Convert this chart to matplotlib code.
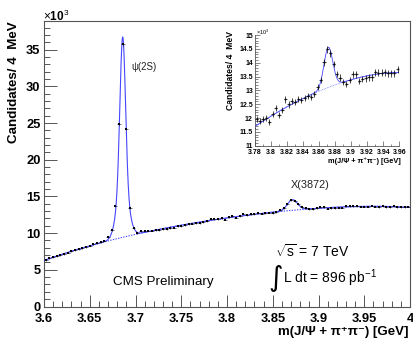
import numpy as np
import matplotlib
matplotlib.use("Agg")
import matplotlib.pyplot as plt
from matplotlib.ticker import MultipleLocator, FormatStrFormatter

plt.rcParams['font.family'] = ['Liberation Sans', 'DejaVu Sans']
plt.rcParams['mathtext.fontset'] = 'custom'
plt.rcParams['mathtext.rm'] = 'Liberation Sans'
plt.rcParams['mathtext.it'] = 'Liberation Sans:italic'
plt.rcParams['mathtext.bf'] = 'Liberation Sans:bold'

# ---------------- data (candidates per 4 MeV bin, in units of 10^3) ----------------
mass_min = 3.6
bin_width = 0.004
counts_k = [
    6.33, 6.57, 6.70, 6.88, 7.02, 7.15, 7.33, 7.52, 7.70, 7.83,
    7.93, 8.07, 8.28, 8.47, 8.61, 8.75, 8.96, 9.45, 10.45, 13.70,
    24.80, 35.70, 24.20, 13.40, 10.70, 10.00, 10.25, 10.30, 10.33, 10.35,
    10.38, 10.42, 10.50, 10.56, 10.68, 10.75, 10.90, 10.98, 11.10, 11.20,
    11.28, 11.35, 11.40, 11.55,
    11.63, 11.95, 11.89, 11.95, 12.01, 11.84, 12.13, 12.35, 12.11, 12.29,
    12.67, 12.49, 12.61, 12.59, 12.69, 12.65, 12.71, 12.80, 12.77, 12.86,
    13.13, 13.37, 14.01, 14.48, 14.34, 13.95, 13.59, 13.46, 13.30, 13.23,
    13.37, 13.58, 13.58, 13.34, 13.41, 13.43, 13.47, 13.47, 13.65, 13.64,
    13.64, 13.65, 13.61, 13.61, 13.61, 13.76,
    13.62, 13.58, 13.66, 13.60, 13.55, 13.63, 13.60, 13.52, 13.58, 13.62,
]

# fit-model parameters
psi_mass = 3.686
psi_amp_narrow, psi_sigma_narrow = 20.0, 0.0030
psi_amp_wide, psi_sigma_wide = 7.3, 0.0060
x_mass, x_amp, x_sigma = 3.8715, 1.45, 0.0055
bg_degree = 4
psi_window = (3.664, 3.706)
x_window = (3.856, 3.888)

main_xticks = [3.6, 3.65, 3.7, 3.75, 3.8, 3.85, 3.9, 3.95, 4.0]
main_xticklabels = ["3.6", "3.65", "3.7", "3.75", "3.8", "3.85", "3.9", "3.95", "4"]
inset_xticks = [3.78, 3.8, 3.82, 3.84, 3.86, 3.88, 3.9, 3.92, 3.94, 3.96]

# ---------------- derived ----------------
counts = np.array(counts_k)
centers = mass_min + bin_width * (np.arange(len(counts)) + 0.5)
errs = np.sqrt(counts * 1000.0) / 1000.0

side = ~(((centers > psi_window[0]) & (centers < psi_window[1])) |
         ((centers > x_window[0]) & (centers < x_window[1])))
bg_coef = np.polyfit(centers[side] - 3.8, counts[side], bg_degree)


def bg(m):
    return np.polyval(bg_coef, m - 3.8)


def total(m):
    g = lambda a, mu, s: a * np.exp(-0.5 * ((m - mu) / s) ** 2)
    return (bg(m) + g(psi_amp_narrow, psi_mass, psi_sigma_narrow)
            + g(psi_amp_wide, psi_mass, psi_sigma_wide)
            + g(x_amp, x_mass, x_sigma))


mm = np.linspace(3.6, 4.0, 2000)
curve_col = '#4646ff'

W, H = 414, 340
fig = plt.figure(figsize=(W / 100, H / 100), dpi=100)

# ---------------- main axes ----------------
L, R, T, B = 44, 410, 20.7, 306.5
ax = fig.add_axes([L / W, 1 - B / H, (R - L) / W, (B - T) / H])
ax.set_xlim(3.6, 4.0)
ax.set_ylim(0, 38.94)

ax.plot(mm, bg(mm), color=curve_col, lw=0.8, ls=(0, (1.2, 1.2)), zorder=2)
ax.plot(mm, total(mm), color=curve_col, lw=0.8, zorder=3)
ax.errorbar(centers, counts, yerr=errs, xerr=bin_width / 2, fmt='s', ms=1.9,
            color='black', ecolor='#222244', elinewidth=0.45, capsize=0,
            mew=0, zorder=4)

ax.set_xticks(main_xticks)
ax.set_xticklabels(main_xticklabels)
ax.xaxis.set_minor_locator(MultipleLocator(0.01))
ax.yaxis.set_major_locator(MultipleLocator(5))
ax.yaxis.set_minor_locator(MultipleLocator(1))
ax.tick_params(which='both', direction='in', top=False, right=False, width=0.7,
               colors='#555555', labelcolor='black')
ax.tick_params(which='major', length=9)
ax.tick_params(which='minor', length=4.5)
ax.tick_params(axis='x', pad=5)
ax.tick_params(axis='y', pad=2.5)
for lab in ax.get_xticklabels() + ax.get_yticklabels():
    lab.set_fontweight('bold')
    lab.set_fontsize(9.3)
for s in ax.spines.values():
    s.set_linewidth(0.8)
    s.set_color('#555555')

fig.text(43 / W, 1 - 16 / H, r'$\times$10$^{3}$', fontsize=8.5, fontweight='bold',
         ha='left', va='center')
fig.text(14 / W, 1 - 21 / H, 'Candidates/ 4  MeV', rotation=90, fontsize=9.6,
         fontweight='bold', ha='center', va='top')
fig.text(409 / W, 1 - 331.5 / H, 'm(J/Ψ + π⁺π⁻) [GeV]', fontsize=9.5,
         fontweight='bold', ha='right', va='center')

ax.text(3.6958, 32.6, 'ψ(2S)', fontsize=7, color='#222222', ha='left', va='center')
ax.text(3.8907, 16.5, 'X(3872)', fontsize=7.8, color='#222222', ha='center', va='center')
ax.text(3.6754, 3.4, 'CMS Preliminary', fontsize=9.6, ha='left', va='center')
ax.text(3.8525, 7.5, r'$\sqrt{\mathrm{s}}$ = 7 TeV', fontsize=10, ha='left', va='center')
ax.text(3.8528, 3.9, '∫', fontsize=20, ha='center', va='center', family='DejaVu Sans')
ax.text(3.8612, 3.8, r'L dt = 896 pb$^{\mathrm{-1}}$', fontsize=10, ha='left', va='center')

# ---------------- inset ----------------
iL, iR, iT, iB = 255, 399.3, 35, 145.7
ax2 = fig.add_axes([iL / W, 1 - iB / H, (iR - iL) / W, (iB - iT) / H])
ax2.set_xlim(3.78, 3.96)
ax2.set_ylim(11, 15)
mi = np.linspace(3.78, 3.96, 800)
ax2.plot(mi, bg(mi), color='#8080ff', lw=0.6, ls=(0, (1, 1)), zorder=2)
ax2.plot(mi, total(mi), color=curve_col, lw=0.6, zorder=3)
sel = (centers > 3.776) & (centers < 3.962)
ax2.errorbar(centers[sel], counts[sel], yerr=errs[sel], xerr=bin_width / 2, fmt='s',
             ms=1.2, color='black', ecolor='black', elinewidth=0.5, capsize=0,
             mew=0, zorder=4)
ax2.set_xticks(inset_xticks)
ax2.xaxis.set_major_formatter(FormatStrFormatter('%g'))
ax2.xaxis.set_minor_locator(MultipleLocator(0.01))
ax2.yaxis.set_major_locator(MultipleLocator(0.5))
ax2.yaxis.set_major_formatter(FormatStrFormatter('%g'))
ax2.yaxis.set_minor_locator(MultipleLocator(0.1))
ax2.tick_params(which='both', direction='in', top=False, right=False, width=0.5,
                colors='#555555', labelcolor='black')
ax2.tick_params(axis='x', pad=2.2)
ax2.tick_params(axis='y', pad=1.5)
ax2.tick_params(which='major', length=3.5)
ax2.tick_params(which='minor', length=1.8)
for lab in ax2.get_xticklabels() + ax2.get_yticklabels():
    lab.set_fontweight('bold')
    lab.set_fontsize(5)
for k in ['top', 'right']:
    ax2.spines[k].set_visible(False)
for k in ['left', 'bottom']:
    ax2.spines[k].set_linewidth(0.6)
    ax2.spines[k].set_color('#555555')

fig.text(256 / W, 1 - 32 / H, r'$\times$10$^{3}$', fontsize=4, ha='left', va='center')
fig.text(231 / W, 1 - 31 / H, 'Candidates/ 4  MeV', rotation=90, fontsize=6.2,
         fontweight='bold', ha='center', va='top')
fig.text(401 / W, 1 - 161 / H, 'm(J/Ψ + π⁺π⁻) [GeV]', fontsize=5.3,
         fontweight='bold', ha='right', va='center')

fig.savefig('out.png', dpi=100)
